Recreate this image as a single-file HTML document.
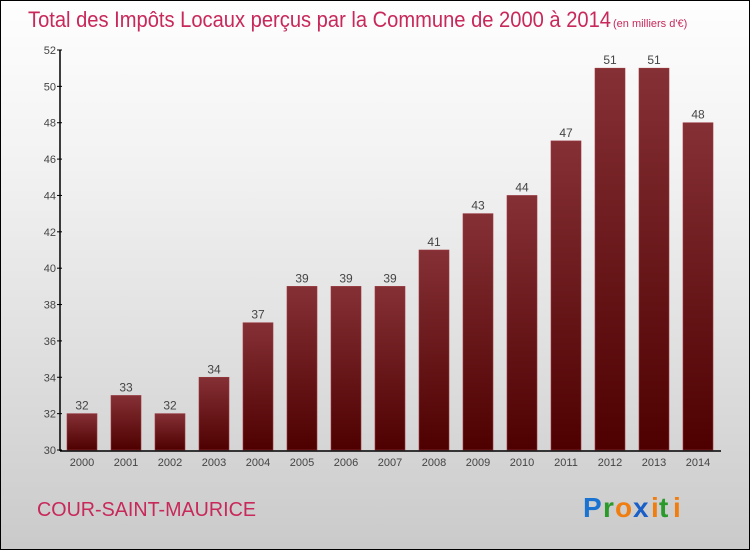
<!DOCTYPE html>
<html><head><meta charset="utf-8"><style>
body{margin:0;width:750px;height:550px;overflow:hidden}
#wrap{position:relative;width:748px;height:548px;border:1px solid #000;background:linear-gradient(#fefefe,#f2f2f2 30%,#d9d9d9 75%,#cacaca)}
text{font-family:"Liberation Sans",sans-serif}
</style></head><body>
<div id="wrap">
<svg id="svg" width="748" height="548" xmlns="http://www.w3.org/2000/svg">
<defs><linearGradient id="bg" x1="0" y1="0" x2="0" y2="1"><stop offset="0" stop-color="#853035"/><stop offset="1" stop-color="#4e0000"/></linearGradient></defs>
<text x="27" y="26" font-size="22" fill="#c8285a" textLength="583" lengthAdjust="spacingAndGlyphs">Total des Impôts Locaux perçus par la Commune de 2000 à 2014</text>
<text x="612" y="26" font-size="11" fill="#c8285a">(en milliers d'€)</text>
<text x="36" y="515" font-size="20" fill="#c8285a" textLength="219" lengthAdjust="spacingAndGlyphs">COUR-SAINT-MAURICE</text>
<g font-size="28" font-weight="bold" font-family="Liberation Sans">
<text x="582" y="516" fill="#1a73d0">P</text><text x="602" y="516" fill="#2a9a2a">r</text><text x="614" y="516" fill="#f07d10">o</text><text x="632" y="516" fill="#1a5fc8">x</text><text x="650" y="516" fill="#f07d10">i</text><text x="658" y="516" fill="#2a9a2a">t</text><text x="672" y="516" fill="#f07d10">i</text>
</g>
<g id="plot"></g>
</svg></div>
<script>
const categories=["2000","2001","2002","2003","2004","2005","2006","2007","2008","2009","2010","2011","2012","2013","2014"];
const values=[32,33,32,34,37,39,39,39,41,43,44,47,51,51,48];
const yTicks=[30,32,34,36,38,40,42,44,46,48,50,52];
const ns="http://www.w3.org/2000/svg";
const plotG=document.getElementById('plot');
const yMin=30,yMax=52,yTop=49,yBot=449,axX=59;
const yS=v=>yBot-(v-yMin)/(yMax-yMin)*(yBot-yTop);
const xS=i=>81+i*44;
function mk(t,a){const e=document.createElementNS(ns,t);for(const k in a)e.setAttribute(k,a[k]);plotG.appendChild(e);return e;}
values.forEach((v,i)=>{
 const r=mk('rect',{x:xS(i)-15,y:yS(v),width:30,height:yBot-yS(v),fill:'url(#bg)',stroke:'#9a3a40','stroke-width':0.6});
 
 
 const t=mk('text',{x:xS(i),y:yS(v)-4,'font-size':12,fill:'#444','text-anchor':'middle'});t.textContent=v;
 
 
 const c=mk('text',{x:xS(i),y:yBot+16,'font-size':11,fill:'#444','text-anchor':'middle'});c.textContent=categories[i];
 
 
});
yTicks.forEach(v=>{
 const l=mk('line',{x1:axX-3,x2:axX+2,y1:yS(v),y2:yS(v),stroke:'#000'});
 
 
 const t=mk('text',{x:axX-4,y:yS(v)+4,'font-size':11,fill:'#444','text-anchor':'end'});t.textContent=v;
 
 
});
const ya=mk('line',{x1:axX,x2:axX,y1:yTop,y2:yBot+1,stroke:'#000','stroke-width':1.5});


const xa=mk('line',{x1:axX,x2:720,y1:yBot+1,y2:yBot+1,stroke:'#000','stroke-width':1.5});


</script>
</body></html>
